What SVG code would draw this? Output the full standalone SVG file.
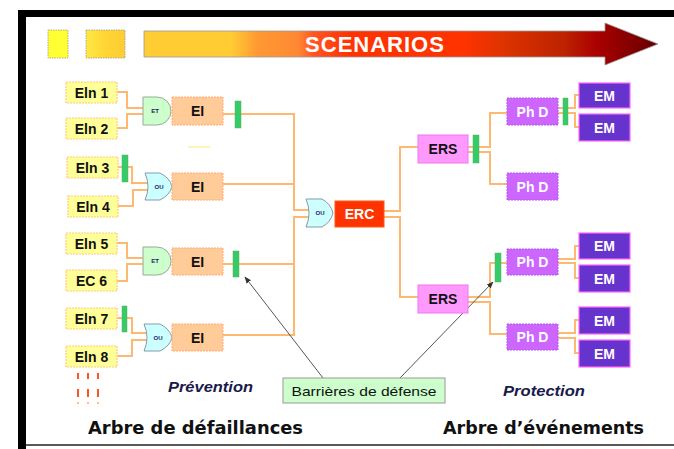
<svg xmlns="http://www.w3.org/2000/svg" width="674" height="449" viewBox="0 0 674 449">
<defs>
<linearGradient id="arrowGrad" x1="144" y1="0" x2="658" y2="0" gradientUnits="userSpaceOnUse">
<stop offset="0" stop-color="#FFCC33"/>
<stop offset="0.17" stop-color="#FFCC33"/>
<stop offset="0.22" stop-color="#FF9933"/>
<stop offset="0.3" stop-color="#FF8833"/>
<stop offset="0.33" stop-color="#FF5522"/>
<stop offset="0.4" stop-color="#FF3300"/>
<stop offset="0.62" stop-color="#FF3300"/>
<stop offset="0.7" stop-color="#DD3300"/>
<stop offset="0.82" stop-color="#BB2200"/>
<stop offset="0.88" stop-color="#AA0000"/>
<stop offset="1" stop-color="#660000"/>
</linearGradient>
<linearGradient id="sq2" x1="0" y1="0" x2="1" y2="0">
<stop offset="0" stop-color="#FFE844"/>
<stop offset="0.5" stop-color="#FFD633"/>
<stop offset="1" stop-color="#FFCC33"/>
</linearGradient>
<marker id="ah" viewBox="0 0 10 10" refX="9" refY="5" markerWidth="7" markerHeight="7" orient="auto-start-reverse" markerUnits="userSpaceOnUse">
<path d="M0,1 L10,5 L0,9 Z" fill="#333"/>
</marker>
<style>
.ein{fill:#FFFF99;stroke:#FFCC77;stroke-width:1.2;stroke-dasharray:2 1}
.ei{fill:#FFCC99;stroke:#FFAA77;stroke-width:1;stroke-dasharray:2 1}
.et{fill:#CCFFCC;stroke:#99AA99;stroke-width:1}
.ou{fill:#CCFFFF;stroke:#8899AA;stroke-width:1}
.bar{fill:#33CC66;stroke:#66AA66;stroke-width:0.5}
.ers{fill:#FF99FF;stroke:#EE77EE;stroke-width:1}
.phd{fill:#CC66FF;stroke:#BB55EE;stroke-width:1;stroke-dasharray:2 1}
.em{fill:#6633CC;stroke:#FF66FF;stroke-width:1.2}
.erc{fill:#FF3300;stroke:#FF5522;stroke-width:1}
.t{font-family:"Liberation Sans",Arial,sans-serif;font-weight:bold;font-size:14px;text-anchor:middle;dominant-baseline:central;fill:#111}
.tw{fill:#FFFFFF}
.g{font-family:"Liberation Sans",Arial,sans-serif;font-weight:bold;font-size:6px;text-anchor:middle;dominant-baseline:central;fill:#1a2266}
.conn{fill:none;stroke:#FFB870;stroke-width:2}
.big{font-family:"DejaVu Sans","Liberation Sans",sans-serif;font-weight:bold;font-size:17.5px;fill:#111}
.it{font-family:"Liberation Sans",Arial,sans-serif;font-weight:bold;font-style:italic;font-size:15px;fill:#1a1a4a}
</style>
</defs>
<rect x="0" y="0" width="674" height="449" fill="#FFFFFF"/>
<!-- frame -->
<rect x="18" y="10" width="656" height="7" fill="#000"/>
<rect x="18" y="10" width="8" height="439" fill="#000"/>
<line x1="26" y1="445" x2="674" y2="445" stroke="#222" stroke-width="1.5"/>
<!-- header -->
<g id="header">
<rect x="48" y="30" width="20" height="28" fill="#FFFF33" stroke="#999" stroke-width="0.8" stroke-dasharray="1.5 1"/>
<rect x="86" y="30" width="39" height="28" fill="url(#sq2)" stroke="#999" stroke-width="0.8" stroke-dasharray="1.5 1"/>
<path d="M144,31 H605 V23 L658,44 L605,65 V57 H144 Z" fill="url(#arrowGrad)" stroke="#999" stroke-width="0.8"/>
<text x="375" y="44" font-family="Liberation Sans,Arial,sans-serif" font-weight="bold" font-size="22" fill="#FFFFFF" text-anchor="middle" dominant-baseline="central" letter-spacing="1">SCENARIOS</text>
</g>
<!-- connectors -->
<g id="connectors">
<path class="conn" d="M117,92 H127 V108 H145"/>
<path class="conn" d="M117,128 H127 V114 H145"/>
<path class="conn" d="M118,167 H132 V183 H148"/>
<path class="conn" d="M118,206 H133 V190 H148"/>
<path class="conn" d="M116,243 H127 V258 H145"/>
<path class="conn" d="M116,281 H127 V264 H145"/>
<path class="conn" d="M117,318 H132 V333 H147"/>
<path class="conn" d="M117,356 H132 V340 H147"/>
<path class="conn" d="M223,114 H294 V210 H309"/>
<path class="conn" d="M223,184 H294"/>
<path class="conn" d="M223,264 H294"/>
<path class="conn" d="M223,335 H294 V217 H309"/>
<path class="conn" d="M384,211 H400 V147 H418"/>
<path class="conn" d="M384,217 H400 V297 H418"/>
<path class="conn" d="M468,147 H490 V113 H507"/>
<path class="conn" d="M468,152 H490 V184 H507"/>
<path class="conn" d="M468,297 H490 V263 H507"/>
<path class="conn" d="M468,302 H490 V334 H507"/>
<path class="conn" d="M558,108 H575 V95 H579"/>
<path class="conn" d="M558,113 H575 V127 H579"/>
<path class="conn" d="M558,259 H575 V246 H579"/>
<path class="conn" d="M558,263 H575 V278 H579"/>
<path class="conn" d="M558,333 H575 V320 H579"/>
<path class="conn" d="M558,338 H575 V353 H579"/>
<line x1="188" y1="147" x2="210" y2="147" stroke="#FFF099" stroke-width="1.5"/>
<line x1="323" y1="378" x2="245" y2="277" stroke="#555" stroke-width="1" marker-end="url(#ah)"/>
<line x1="400" y1="378" x2="493" y2="282" stroke="#555" stroke-width="1" marker-end="url(#ah)"/>
</g>
<!-- left inputs -->
<g id="eln1"><rect class="ein" x="66" y="82" width="51" height="21"/><text class="t" x="91.5" y="92.5">Eln 1</text></g>
<g id="eln2"><rect class="ein" x="66" y="118" width="51" height="21"/><text class="t" x="91.5" y="128.5">Eln 2</text></g>
<g id="eln3"><rect class="ein" x="67" y="157" width="51" height="21"/><text class="t" x="92.5" y="167.5">Eln 3</text></g>
<g id="eln4"><rect class="ein" x="68" y="196" width="50" height="21"/><text class="t" x="93" y="206.5">Eln 4</text></g>
<g id="eln5"><rect class="ein" x="66" y="233" width="51" height="21"/><text class="t" x="91.5" y="243.5">Eln 5</text></g>
<g id="ec6"><rect class="ein" x="66" y="270" width="51" height="21"/><text class="t" x="91.5" y="280.5">EC 6</text></g>
<g id="eln7"><rect class="ein" x="66" y="308" width="51" height="21"/><text class="t" x="91.5" y="318.5">Eln 7</text></g>
<g id="eln8"><rect class="ein" x="66" y="346" width="51" height="21"/><text class="t" x="91.5" y="356.5">Eln 8</text></g>
<g id="dashes" stroke="#FF5522" stroke-width="2">
<line x1="78" y1="373" x2="78" y2="379"/><line x1="88" y1="373" x2="88" y2="379"/><line x1="98" y1="373" x2="98" y2="379"/>
<line x1="78" y1="389" x2="78" y2="397"/><line x1="88" y1="389" x2="88" y2="397"/><line x1="98" y1="389" x2="98" y2="397"/>
<line x1="78" y1="402" x2="78" y2="404" stroke="#FFBB99"/><line x1="88" y1="402" x2="88" y2="404" stroke="#FFBB99"/><line x1="98" y1="402" x2="98" y2="404" stroke="#FFBB99"/>
</g>
<!-- barriers left -->
<g id="bar1"><rect class="bar" x="235" y="101" width="6" height="27"/></g>
<g id="bar2"><rect class="bar" x="122" y="155" width="6" height="27"/></g>
<g id="bar3"><rect class="bar" x="233" y="251" width="6" height="26"/></g>
<g id="bar4"><rect class="bar" x="122" y="306" width="5" height="26"/></g>
<!-- gates + EI -->
<g id="gate1"><path class="et" d="M143,97 H157 A14,14 0 0 1 157,125 H143 Z"/><text class="g" x="155" y="111">ET</text></g>
<g id="ei1"><rect class="ei" x="172" y="97" width="51" height="28"/><text class="t" x="197.5" y="111">EI</text></g>
<g id="gate2"><path class="ou" d="M145,173 H160 Q170,178 172,186.5 Q170,195 160,200 H145 Q151,186.5 145,173 Z"/><text class="g" x="159" y="187">OU</text></g>
<g id="ei2"><rect class="ei" x="172" y="173" width="51" height="27"/><text class="t" x="197.5" y="186.5">EI</text></g>
<g id="gate3"><path class="et" d="M143,247 H157 A14,14 0 0 1 157,275 H143 Z"/><text class="g" x="155" y="261">ET</text></g>
<g id="ei3"><rect class="ei" x="172" y="248" width="51" height="27"/><text class="t" x="197.5" y="261.5">EI</text></g>
<g id="gate4"><path class="ou" d="M144,324 H160 Q170,329 172,337.5 Q170,346 160,351 H144 Q150,337.5 144,324 Z"/><text class="g" x="158" y="338">OU</text></g>
<g id="ei4"><rect class="ei" x="172" y="324" width="51" height="27"/><text class="t" x="197.5" y="337.5">EI</text></g>
<!-- centre -->
<g id="gateERC"><path class="ou" d="M306,199 H322 Q331,204 333,213 Q331,222 322,227 H306 Q312,213 306,199 Z"/><text class="g" x="320" y="213">OU</text></g>
<g id="erc"><rect class="erc" x="335" y="201" width="49" height="26"/><text class="t tw" x="359.5" y="214">ERC</text></g>
<g id="ers1"><rect class="ers" x="418" y="135" width="50" height="28"/><text class="t" x="443" y="149">ERS</text></g>
<g id="ers2"><rect class="ers" x="418" y="285" width="50" height="28"/><text class="t" x="443" y="299">ERS</text></g>
<!-- right -->
<g id="bar5"><rect class="bar" x="473" y="135" width="6" height="28"/></g>
<g id="bar6"><rect class="bar" x="563" y="98" width="5" height="27"/></g>
<g id="bar7"><rect class="bar" x="495" y="253" width="6" height="29"/></g>
<g id="phd1"><rect class="phd" x="507" y="98" width="51" height="27"/><text class="t tw" x="532.5" y="111.5">Ph D</text></g>
<g id="phd2"><rect class="phd" x="507" y="173" width="51" height="27"/><text class="t tw" x="532.5" y="186.5">Ph D</text></g>
<g id="phd3"><rect class="phd" x="507" y="249" width="51" height="26"/><text class="t tw" x="532.5" y="262">Ph D</text></g>
<g id="phd4"><rect class="phd" x="507" y="324" width="51" height="26"/><text class="t tw" x="532.5" y="337">Ph D</text></g>
<g id="em1"><rect class="em" x="579" y="83" width="51" height="25"/><text class="t tw" x="604.5" y="95.5">EM</text></g>
<g id="em2"><rect class="em" x="579" y="114" width="51" height="27"/><text class="t tw" x="604.5" y="127.5">EM</text></g>
<g id="em3"><rect class="em" x="579" y="233" width="51" height="26"/><text class="t tw" x="604.5" y="246">EM</text></g>
<g id="em4"><rect class="em" x="579" y="265" width="51" height="27"/><text class="t tw" x="604.5" y="278.5">EM</text></g>
<g id="em5"><rect class="em" x="579" y="307" width="51" height="27"/><text class="t tw" x="604.5" y="320.5">EM</text></g>
<g id="em6"><rect class="em" x="579" y="340" width="51" height="27"/><text class="t tw" x="604.5" y="353.5">EM</text></g>
<!-- labels -->
<g id="barrieres"><rect x="283" y="378" width="162" height="25" fill="#CCFFCC" stroke="#999" stroke-width="1"/><text x="364" y="391" font-family="Liberation Sans,Arial,sans-serif" font-size="13.5" fill="#111" text-anchor="middle" dominant-baseline="central" textLength="145" lengthAdjust="spacingAndGlyphs">Barrières de défense</text></g>
<text class="it" x="168" y="392" textLength="85" lengthAdjust="spacingAndGlyphs">Prévention</text>
<text class="it" x="503" y="396" textLength="82" lengthAdjust="spacingAndGlyphs">Protection</text>
<text class="big" x="88" y="434" textLength="215" lengthAdjust="spacingAndGlyphs">Arbre de défaillances</text>
<text class="big" x="443" y="434" textLength="201" lengthAdjust="spacingAndGlyphs">Arbre d’événements</text>
</svg>
